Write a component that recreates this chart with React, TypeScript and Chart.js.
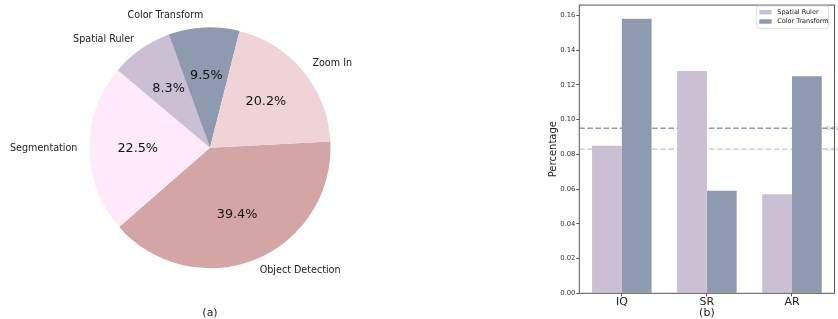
import React, { useEffect, useRef } from "react";
import { Chart, registerables } from "chart.js";
Chart.register(...registerables);

// ---------- Pie (a) data ----------
const pieLabels = ["Object Detection", "Segmentation", "Spatial Ruler", "Color Transform", "Zoom In"];
const pieValues = [39.4, 22.5, 8.3, 9.5, 20.2];
const pieColors = ["#D4A5A5", "#FEEAFA", "#CBC0D3", "#8E9AAF", "#EFD3D7"];
const pieCaption = "(a)";

// ---------- Bar (b) data ----------
const barCategories = ["IQ", "SR", "AR"];
const seriesNames = ["Spatial Ruler", "Color Transform"];
const spatialRulerValues = [0.085, 0.128, 0.057];
const colorTransformValues = [0.158, 0.059, 0.125];
const seriesColors = ["#CBC0D3", "#8E9AAF"];
const refLineValues = [0.095, 0.083];
const refLineLabels = ["0.095", "0.083"];
const refLineColors = ["#8E9AAF", "#CBC0D3"];
const yAxisMax = 0.1659;
const yTickStep = 0.02;
const barCaption = "(b)";
const yAxisTitle = "Percentage";

const FONT = "'DejaVu Sans', sans-serif";

const pieLabelPlugin = {
  id: "pieLabels",
  afterDatasetsDraw(chart: any) {
    const ctx = chart.ctx;
    const meta = chart.getDatasetMeta(0);
    const total = pieValues.reduce((a, b) => a + b, 0);
    ctx.save();
    meta.data.forEach((arc: any, i: number) => {
      const p = arc.getProps(["x", "y", "startAngle", "endAngle", "outerRadius"], true);
      const mid = (p.startAngle + p.endAngle) / 2;
      const cx = Math.cos(mid);
      const cy = Math.sin(mid);
      const lx = p.x + cx * p.outerRadius * 1.1;
      const ly = p.y + cy * p.outerRadius * 1.1;
      ctx.font = `9.6px ${FONT}`;
      ctx.fillStyle = "#222";
      ctx.textBaseline = "middle";
      ctx.textAlign = cx > 0 ? "left" : "right";
      ctx.fillText(pieLabels[i], lx, ly);
      const px = p.x + cx * p.outerRadius * 0.6;
      const py = p.y + cy * p.outerRadius * 0.6;
      ctx.font = `12.8px ${FONT}`;
      ctx.fillStyle = "#111";
      ctx.textAlign = "center";
      ctx.fillText(((pieValues[i] / total) * 100).toFixed(1) + "%", px, py);
    });
    ctx.font = `11px ${FONT}`;
    ctx.fillStyle = "#222";
    ctx.textAlign = "center";
    ctx.textBaseline = "middle";
    ctx.fillText(pieCaption, chart.width / 2, 313.5);
    ctx.restore();
  },
};

const refLinesPlugin = {
  id: "refLines",
  beforeDatasetsDraw(chart: any) {
    const { ctx, chartArea } = chart;
    const ys = chart.scales.y;
    ctx.save();
    refLineValues.forEach((v, i) => {
      const y = ys.getPixelForValue(v);
      ctx.strokeStyle = refLineColors[i];
      ctx.lineWidth = 1.4;
      ctx.setLineDash([5.5, 2.6]);
      ctx.beginPath();
      ctx.moveTo(chartArea.left, y);
      ctx.lineTo(chartArea.right, y);
      ctx.stroke();
    });
    ctx.restore();
  },
  afterDatasetsDraw(chart: any) {
    const { ctx, chartArea } = chart;
    const ys = chart.scales.y;
    ctx.save();
    refLineValues.forEach((v, i) => {
      const y = ys.getPixelForValue(v);
      ctx.font = `5.5px ${FONT}`;
      ctx.fillStyle = refLineColors[i];
      ctx.globalAlpha = 0.8;
      ctx.textAlign = "left";
      ctx.textBaseline = "middle";
      ctx.fillText(refLineLabels[i], chartArea.right - 8, y);
    });
    ctx.globalAlpha = 1;
    ctx.strokeStyle = "#555";
    ctx.lineWidth = 1;
    ctx.setLineDash([]);
    ctx.strokeRect(chartArea.left, chartArea.top, chartArea.right - chartArea.left, chartArea.bottom - chartArea.top);
    const bx = 216.7, by = 6, bw = 71.8, bh = 22.3;
    ctx.fillStyle = "rgba(255,255,255,0.8)";
    ctx.strokeStyle = "#d6d6d6";
    ctx.lineWidth = 0.8;
    ctx.beginPath();
    ctx.roundRect(bx, by, bw, bh, 2);
    ctx.fill();
    ctx.stroke();
    seriesNames.forEach((name, i) => {
      const ry = 12.2 + i * 9.3;
      ctx.fillStyle = seriesColors[i];
      ctx.fillRect(219.3, ry - 2.2, 12.4, 4.4);
      ctx.fillStyle = "#222";
      ctx.font = `6.5px ${FONT}`;
      ctx.textAlign = "left";
      ctx.textBaseline = "middle";
      ctx.fillText(name, 237.3, ry);
    });
    ctx.restore();
  },
};

export default function App() {
  const pieRef = useRef<HTMLCanvasElement>(null);
  const barRef = useRef<HTMLCanvasElement>(null);

  useEffect(() => {
    const pie = new Chart(pieRef.current!, {
      type: "pie",
      data: {
        labels: pieLabels,
        datasets: [
          {
            data: pieValues,
            backgroundColor: pieColors,
            borderWidth: 0,
          },
        ],
      },
      options: {
        responsive: false,
        animation: false,
        rotation: 87,
        layout: { padding: { left: 89.3, right: 89.3, top: 27.3, bottom: 50.7 } },
        plugins: { legend: { display: false }, tooltip: { enabled: false } },
      },
      plugins: [pieLabelPlugin],
    });

    const bar = new Chart(barRef.current!, {
      type: "bar",
      data: {
        labels: barCategories,
        datasets: [
          {
            label: seriesNames[0],
            data: spatialRulerValues,
            backgroundColor: seriesColors[0],
            categoryPercentage: 0.7,
            barPercentage: 1.0,
          },
          {
            label: seriesNames[1],
            data: colorTransformValues,
            backgroundColor: seriesColors[1],
            categoryPercentage: 0.7,
            barPercentage: 1.0,
          },
        ],
      },
      options: {
        responsive: false,
        animation: false,
        layout: { padding: { left: 0, right: 3.5, top: 3.3, bottom: 0 } },
        plugins: { legend: { display: false }, tooltip: { enabled: false } },
        scales: {
          x: {
            grid: {
              display: true,
              drawOnChartArea: false,
              drawTicks: true,
              tickLength: 3,
              tickColor: "#555",
              offset: false,
            },
            border: { display: false },
            ticks: {
              color: "#222",
              padding: 0.5,
              font: { family: FONT, size: 11, lineHeight: 1 },
            },
            title: {
              display: true,
              text: barCaption,
              color: "#222",
              padding: { top: 0, bottom: 0 },
              font: { family: FONT, size: 11, lineHeight: 1 },
            },
            afterFit: (s: any) => {
              s.height = 25.7;
            },
          },
          y: {
            min: 0,
            max: yAxisMax,
            grid: {
              display: true,
              drawOnChartArea: false,
              drawTicks: true,
              tickLength: 3,
              tickColor: "#555",
            },
            border: { display: false },
            ticks: {
              stepSize: yTickStep,
              includeBounds: false,
              color: "#333",
              padding: 1,
              font: { family: FONT, size: 6.8 },
              callback: (v: any) => Number(v).toFixed(2),
            },
            title: {
              display: true,
              text: yAxisTitle,
              color: "#222",
              padding: { top: 7, bottom: 0 },
              font: { family: FONT, size: 10 },
            },
            afterFit: (s: any) => {
              s.width = 39.3;
            },
          },
        },
      },
      plugins: [refLinesPlugin],
    });

    return () => {
      pie.destroy();
      bar.destroy();
    };
  }, []);

  return (
    <div style={{ position: "fixed", left: 0, top: 0, width: 838, height: 319, background: "#fff", overflow: "hidden" }}>
      <canvas
        ref={pieRef}
        width={420}
        height={319}
        style={{ position: "absolute", left: 0, top: 0, width: 420, height: 319 }}
      />
      <canvas
        ref={barRef}
        width={298}
        height={319}
        style={{ position: "absolute", left: 540, top: 0, width: 298, height: 319 }}
      />
    </div>
  );
}
